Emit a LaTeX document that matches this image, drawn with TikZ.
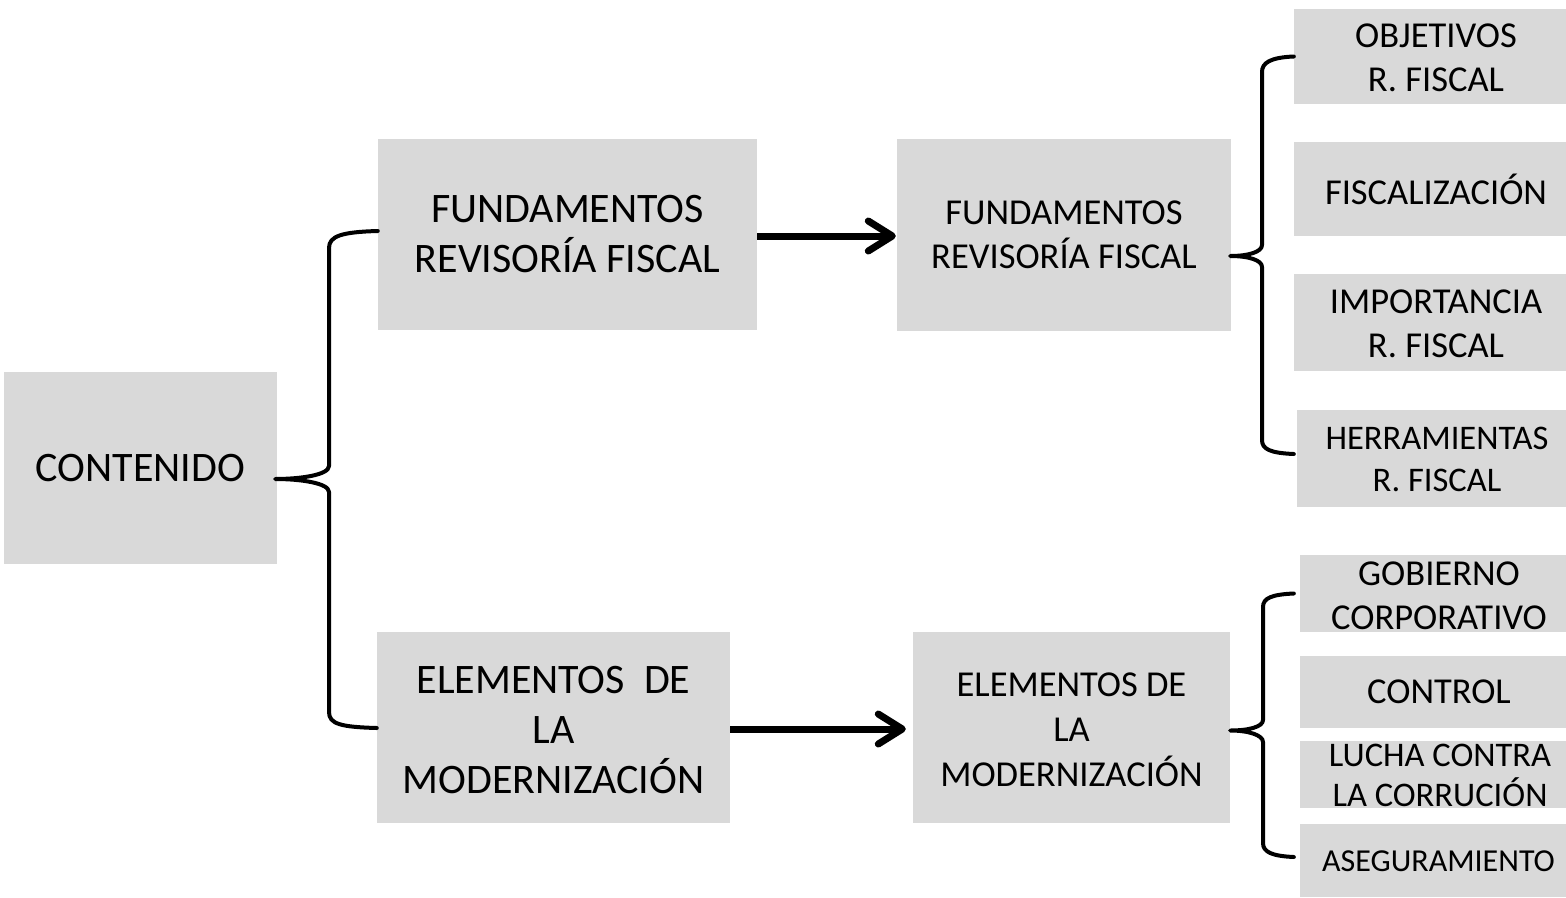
\documentclass[tikz,border=0pt]{standalone}
\usepackage{fontspec}
\setmainfont{Carlito}
\usetikzlibrary{arrows.meta,calc}
\definecolor{boxgray}{HTML}{D9D9D9}
\tikzset{
  box/.style={fill=boxgray, inner sep=0pt, align=center, text=black},
  lbl/.style={inner sep=0pt, align=center, text=black},
  bigtxt/.style={font=\fontsize{42}{50}\selectfont},
  midtxt/.style={font=\fontsize{36.5}{44}\selectfont},
  lucha/.style={font=\fontsize{34.5}{40}\selectfont},
  herr/.style={font=\fontsize{34.5}{42}\selectfont},
  smalltxt/.style={font=\fontsize{32}{40}\selectfont},
  brace/.style={line width=4pt, line cap=round, line join=round},
  bigarrow/.style={line width=7pt, -{Straight Barb[length=24pt,width=30pt,round]}}
}
\begin{document}
\begin{tikzpicture}[x=1pt,y=-1pt]
\useasboundingbox (0,0) rectangle (1566,897);

% left column
\node[box,bigtxt,minimum width=273pt,minimum height=192pt] (cont) at (140.5,468) {CONTENIDO};

% second column
\node[box,bigtxt,minimum width=379pt,minimum height=191pt] (frf1) at (567.5,234.5) {FUNDAMENTOS\\REVISORÍA FISCAL};
\node[box,minimum width=353pt,minimum height=191pt] (em1) at (553.5,727.5) {};
\node[lbl,bigtxt] (em1t) at ($(em1.center)+(0,3)$) {ELEMENTOS~\ DE\\LA\\MODERNIZACIÓN};

% third column
\node[box,midtxt,minimum width=334pt,minimum height=192pt] (frf2) at (1064,235) {FUNDAMENTOS\\REVISORÍA FISCAL};
\node[box,minimum width=317pt,minimum height=191pt] (em2) at (1071.5,727.5) {};
\node[lbl,font=\fontsize{36.5}{45}\selectfont] (em2t) at ($(em2.center)+(0,2)$) {ELEMENTOS DE\\LA\\MODERNIZACIÓN};

% right column, top
\node[box,minimum width=272pt,minimum height=95pt] (obj) at (1430,56.5) {};
\node[box,minimum width=272pt,minimum height=94pt] (fis) at (1430,189) {};
\node[box,minimum width=272pt,minimum height=97pt] (imp) at (1430,322.5) {};
\node[box,minimum width=269pt,minimum height=97pt] (her) at (1431.5,458.5) {};
\node[lbl,midtxt] (objt) at ($(obj.center)+(6,1)$) {OBJETIVOS\\R. FISCAL};
\node[lbl,midtxt] (fist) at ($(fis.center)+(6,0)$) {FISCALIZACIÓN};
\node[lbl,midtxt] (impt) at ($(imp.center)+(6,1)$) {IMPORTANCIA\\R. FISCAL};
\node[lbl,herr] (hert) at ($(her.center)+(5.5,1)$) {HERRAMIENTAS\\R. FISCAL};

% right column, bottom
\node[box,minimum width=266pt,minimum height=77pt] (gob) at (1433,593.5) {};
\node[box,minimum width=266pt,minimum height=72pt] (con) at (1433,692) {};
\node[box,minimum width=266pt,minimum height=67pt] (luc) at (1433,774.5) {};
\node[box,minimum width=266pt,minimum height=73pt] (ase) at (1433,860.5) {};
\node[lbl,midtxt] (gobt) at ($(gob.center)+(6,2)$) {GOBIERNO\\CORPORATIVO};
\node[lbl,midtxt] (cont2) at ($(con.center)+(6,0)$) {CONTROL};
\node[lbl,lucha] (luct) at ($(luc.center)+(7,1)$) {LUCHA CONTRA\\LA CORRUCIÓN};
\node[lbl,smalltxt] (aset) at ($(ase.center)+(5.5,1)$) {ASEGURAMIENTO};

% arrows
\draw[bigarrow] ($(frf1.east)+(0,1.5)$) -- ($(frf2.west)+(-1,1)$);
\draw[bigarrow] ($(em1.east)+(0,1.5)$) -- ($(em2.west)+(-7,1.5)$);

% big left brace
\coordinate (b1tip) at ($(cont.east)+(-2,11)$);
\coordinate (b1top) at ($(frf1.west)+(0,-3.5)$);
\coordinate (b1bot) at ($(em1.west)+(0,0.5)$);
\draw[brace] (b1top) .. controls +(-36,1) and +(0,-12) .. (329,248)
  -- (329,466) .. controls +(0,9) and +(25,0) .. (b1tip)
  .. controls +(25,0) and +(0,-9) .. (329,492)
  -- (329,712) .. controls +(0,12) and +(-36,-1) .. (b1bot);

% upper right brace
\coordinate (b2tip) at ($(frf2.east)+(-1,21)$);
\coordinate (b2top) at (obj.west);
\coordinate (b2bot) at ($(her.west)+(-3,-4.5)$);
\draw[brace] (b2top) .. controls +(-24,1) and +(0,-9) .. (1262,72)
  -- (1262,245) .. controls +(0,7) and +(18,0) .. (b2tip)
  .. controls +(18,0) and +(0,-7) .. (1262,267)
  -- (1262,440) .. controls +(0,9) and +(-24,-1) .. (b2bot);

% lower right brace
\coordinate (b3tip) at ($(em2.east)+(0,3)$);
\coordinate (b3top) at ($(gob.west)+(-6,0)$);
\coordinate (b3bot) at ($(ase.west)+(-6,-3.5)$);
\draw[brace] (b3top) .. controls +(-22,1) and +(0,-9) .. (1263,607)
  -- (1263,720) .. controls +(0,7) and +(18,0) .. (b3tip)
  .. controls +(18,0) and +(0,-7) .. (1263,742)
  -- (1263,843) .. controls +(0,9) and +(-22,-1) .. (b3bot);
\end{tikzpicture}
\end{document}
